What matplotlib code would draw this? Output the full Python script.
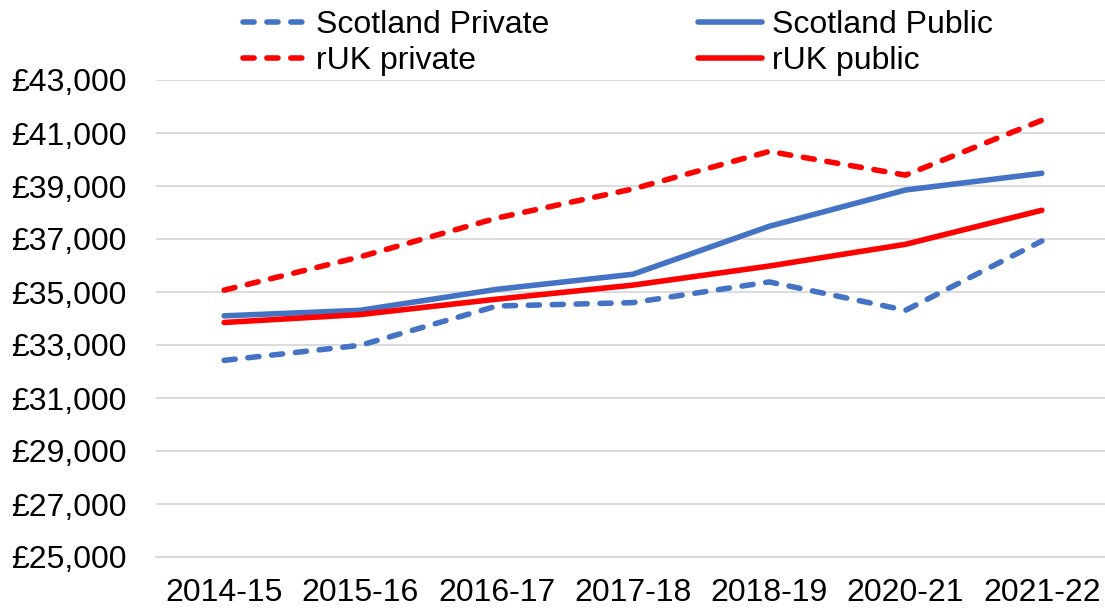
import matplotlib
matplotlib.use("Agg")
import matplotlib.pyplot as plt
from matplotlib.ticker import FuncFormatter

years = ["2014-15", "2015-16", "2016-17", "2017-18", "2018-19", "2020-21", "2021-22"]
scotland_private = [32420, 32990, 34470, 34600, 35380, 34310, 36925]
scotland_public = [34100, 34310, 35100, 35670, 37480, 38850, 39480]
ruk_private = [35070, 36330, 37790, 38890, 40305, 39410, 41480]
ruk_public = [33850, 34150, 34730, 35260, 35980, 36800, 38085]

plt.rcParams['font.family'] = ['Liberation Sans', 'DejaVu Sans']

fig = plt.figure(figsize=(11.05, 6.1), dpi=100)
ax = fig.add_axes([156/1105, (610-557)/610, (1110-156)/1105, (557-80)/610])

BLUE = "#4472C4"
RED = "#FF0000"
lw = 4.0
FS = 23
x = list(range(len(years)))
l1, = ax.plot(x, scotland_private, color=BLUE, lw=lw, dashes=(2.0, 2.3), dash_capstyle='round', label="Scotland Private")
l2, = ax.plot(x, scotland_public, color=BLUE, lw=lw, solid_capstyle='round', label="Scotland Public")
l3, = ax.plot(x, ruk_private, color=RED, lw=lw, dashes=(2.0, 2.3), dash_capstyle='round', label="rUK private")
l4, = ax.plot(x, ruk_public, color=RED, lw=lw, solid_capstyle='round', label="rUK public")

ax.set_xlim(-0.5, 6.5)
ax.set_ylim(25000, 43000)
ax.set_yticks(range(25000, 43001, 2000))
ax.yaxis.set_major_formatter(FuncFormatter(lambda v, p: "£{:,.0f}".format(v)))
ax.set_xticks(x)
ax.set_xticklabels(years)
ax.tick_params(axis='both', length=0, labelsize=FS, colors='black')
ax.tick_params(axis='x', pad=15)
ax.tick_params(axis='y', pad=21)
ax.grid(axis='y', color='#D9D9D9', lw=1.3)
ax.set_axisbelow(True)
for s in ['top', 'right', 'left']:
    ax.spines[s].set_visible(False)
ax.spines['bottom'].set_color('#D9D9D9')
ax.spines['bottom'].set_linewidth(1.3)

fig.legend(handles=[l1, l3, l2, l4], loc='upper left', bbox_to_anchor=(243/1105, 1 - 10/610),
           ncol=2, frameon=False, fontsize=FS, handlelength=2.0, handletextpad=0.3,
           columnspacing=4.65, borderpad=0, borderaxespad=0, labelspacing=0.2)

fig.savefig("out.png", dpi=100)
